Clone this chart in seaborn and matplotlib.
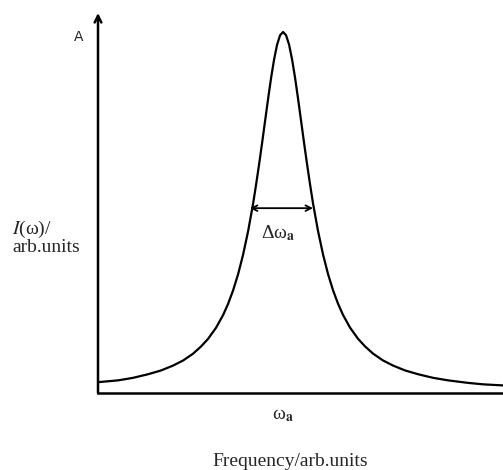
import matplotlib
matplotlib.use("Agg")
import matplotlib.pyplot as plt
import seaborn as sns
import pandas as pd

# Curve (x: 0..100 arb. units along frequency axis, y: intensity, peak = 1)
freq = [0.0, 4.96, 8.66, 12.37, 15.58, 18.54, 21.01, 23.48, 25.45, 27.18, 29.16, 30.89,
        32.12, 33.35, 34.59, 35.82, 37.06, 38.29, 39.03, 39.77, 40.51, 41.26, 42.0, 42.74,
        43.48, 44.22, 44.96, 45.7,
        46.44, 47.18, 47.92, 48.66, 49.4, 50.14, 50.89, 51.63, 52.37, 53.11, 54.34, 55.58,
        56.81, 58.05, 59.28, 60.51, 62.24, 64.22, 65.95, 67.92, 70.39, 72.86, 75.82, 79.03,
        82.74, 86.44, 91.38, 95.08, 100.0]
intensity = [0.030, 0.035, 0.042, 0.052, 0.0625, 0.076, 0.090, 0.109, 0.129, 0.150, 0.181, 0.216,
             0.247, 0.284, 0.329, 0.383, 0.448, 0.524, 0.577, 0.633, 0.692, 0.754, 0.815, 0.873,
             0.924, 0.965, 0.991, 1.0,
             0.991, 0.965, 0.924, 0.873, 0.815, 0.754, 0.692, 0.633, 0.577, 0.524, 0.448, 0.383,
             0.329, 0.284, 0.247, 0.216, 0.181, 0.150, 0.129, 0.109, 0.090, 0.076, 0.0625, 0.052,
             0.042, 0.035, 0.028, 0.024, 0.021]

centre = 45.7
fwhm_left, fwhm_right, half_level = 37.5, 53.1, 0.512

df = pd.DataFrame({"freq": freq, "intensity": intensity})

sns.set_style("white")
plt.rcParams["font.family"] = ["Liberation Serif", "DejaVu Serif"]
plt.rcParams["mathtext.fontset"] = "stix"

W, H = 503, 470
fig = plt.figure(figsize=(W / 100, H / 100), dpi=100)
ax = fig.add_axes([98 / W, 77 / H, 1 - 98 / W, (393 - 13) / H])

sns.lineplot(data=df, x="freq", y="intensity", ax=ax, color="black", linewidth=1.6)

ax.set_xlim(0, 100)
ax.set_ylim(0, 380 / 361)
ax.set_xticks([])
ax.set_yticks([])
ax.set_xlabel("")
ax.set_ylabel("")
for s in ["top", "right", "left"]:
    ax.spines[s].set_visible(False)
ax.spines["bottom"].set_linewidth(1.8)
ax.spines["bottom"].set_color("black")

# vertical axis with arrow
ax.annotate("", xy=(0, 1), xytext=(0, 0), xycoords="axes fraction",
            arrowprops=dict(arrowstyle="->", lw=1.8, color="black",
                            shrinkA=0, shrinkB=0, mutation_scale=12))

# FWHM double arrow
ax.annotate("", xy=(fwhm_left, half_level), xytext=(fwhm_right, half_level),
            arrowprops=dict(arrowstyle="<->", lw=1.3, color="black",
                            shrinkA=0, shrinkB=0, mutation_scale=10))
ax.text(44.4, 0.443, r"Δω$_\mathbf{a}$", ha="center", va="center", fontsize=14)
ax.text(centre, -0.061, r"ω$_\mathbf{a}$", ha="center", va="center", fontsize=14,
        clip_on=False)

def ftext(x, y, s, **kw):
    fig.text(x / W, 1 - y / H, s, **kw)

ftext(79, 37, "A", ha="center", va="center", fontsize=10, family=["DejaVu Sans"])
ftext(12, 229, r"$\mathit{I}$(ω)/", ha="left", va="center", fontsize=14)
ftext(12, 248, "arb.units", ha="left", va="center", fontsize=14)
ftext(290, 461, "Frequency/arb.units", ha="center", va="center", fontsize=14)

fig.savefig("out.png", dpi=100)
